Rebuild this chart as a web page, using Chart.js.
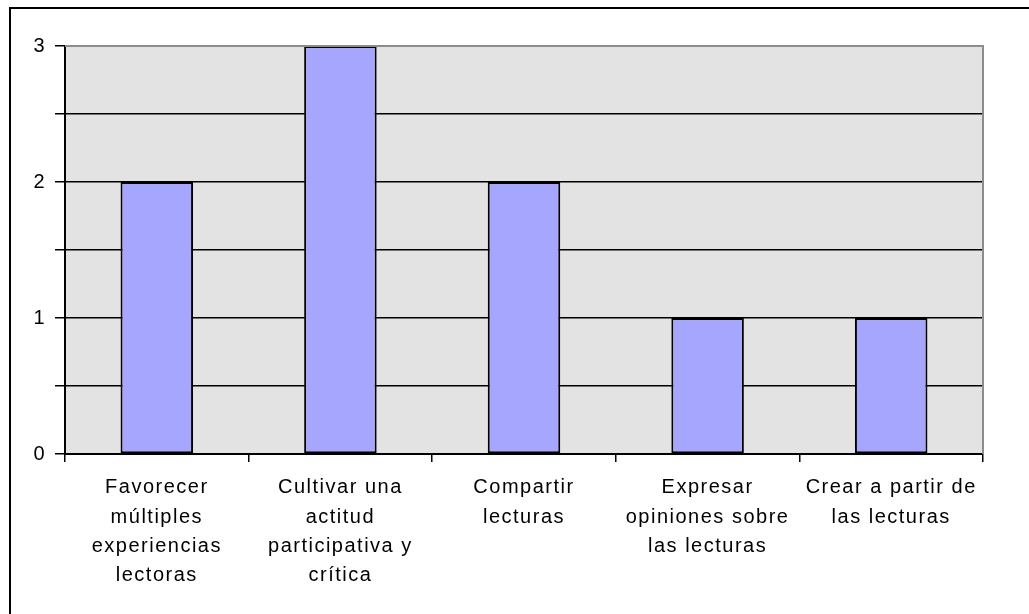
<!DOCTYPE html>
<html>
<head>
<meta charset="utf-8">
<script src="https://cdn.jsdelivr.net/npm/chart.js@4/dist/chart.umd.min.js"></script>
<style>
  html, body { margin: 0; padding: 0; background: #ffffff; }
  #wrap { width: 1029px; height: 614px; }
</style>
</head>
<body>
<div id="wrap"><canvas id="c" width="1029" height="614"></canvas></div>
<script>
const categories = [
  ["Favorecer", "múltiples", "experiencias", "lectoras"],
  ["Cultivar una", "actitud", "participativa y", "crítica"],
  ["Compartir", "lecturas"],
  ["Expresar", "opiniones sobre", "las lecturas"],
  ["Crear a partir de", "las lecturas"]
];
const values = [2, 3, 2, 1, 1];
const yTickLabels = [0, 1, 2, 3];

const frame = {
  id: 'frame',
  beforeUpdate(chart) {
    chart.ctx.letterSpacing = '1.5px';
  },
  beforeDraw(chart) {
    const ctx = chart.ctx;
    ctx.letterSpacing = '1.5px';
    const a = chart.chartArea;
    ctx.save();
    ctx.fillStyle = '#ffffff';
    ctx.fillRect(0, 0, chart.width, chart.height);
    ctx.strokeStyle = '#000000';
    ctx.lineWidth = 2;
    ctx.strokeRect(10, 8, chart.width + 20, chart.height + 20);
    ctx.fillStyle = '#e3e3e3';
    ctx.fillRect(a.left, a.top, a.right - a.left, a.bottom - a.top);
    ctx.restore();
  },
  afterDraw(chart) {
    const ctx = chart.ctx;
    const a = chart.chartArea;
    ctx.save();
    ctx.strokeStyle = '#8c8c8c';
    ctx.lineWidth = 2;
    ctx.beginPath();
    ctx.moveTo(a.left, a.top);
    ctx.lineTo(a.right, a.top);
    ctx.lineTo(a.right, a.bottom);
    ctx.stroke();
    ctx.restore();
  }
};

new Chart(document.getElementById('c'), {
  type: 'bar',
  data: {
    labels: categories,
    datasets: [{
      data: values,
      backgroundColor: '#a6a6ff',
      borderColor: '#000000',
      borderWidth: 2,
      borderSkipped: false,
      barPercentage: 0.395,
      categoryPercentage: 1.0
    }]
  },
  options: {
    responsive: false,
    animation: false,
    layout: { padding: { left: 0, top: 46, right: 46, bottom: 0 } },
    plugins: {
      legend: { display: false },
      tooltip: { enabled: false }
    },
    scales: {
      x: {
        afterFit(s) { s.height = 160; },
        grid: {
          offset: true,
          drawOnChartArea: false,
          drawTicks: true,
          tickLength: 8,
          color: '#000000',
          lineWidth: 1.5
        },
        border: { color: '#000000', width: 2 },
        ticks: {
          color: '#000000',
          padding: 11,
          maxRotation: 0,
          autoSkip: false,
          font: { family: '"Liberation Sans", Arial, sans-serif', size: 20, lineHeight: 1.47 }
        }
      },
      y: {
        min: 0,
        max: 3,
        afterFit(s) { s.width = 65; },
        grid: {
          drawTicks: true,
          tickLength: 10,
          color: (c) => (c.tick && c.tick.value === 3 ? '#8c8c8c' : '#000000'),
          tickColor: '#000000',
          lineWidth: 1.5
        },
        border: { color: '#000000', width: 2 },
        ticks: {
          stepSize: 0.5,
          color: '#000000',
          padding: 9,
          font: { family: '"Liberation Sans", Arial, sans-serif', size: 20 },
          callback: (v) => (yTickLabels.includes(v) ? String(v) : '')
        }
      }
    }
  },
  plugins: [frame]
});
</script>
</body>
</html>
